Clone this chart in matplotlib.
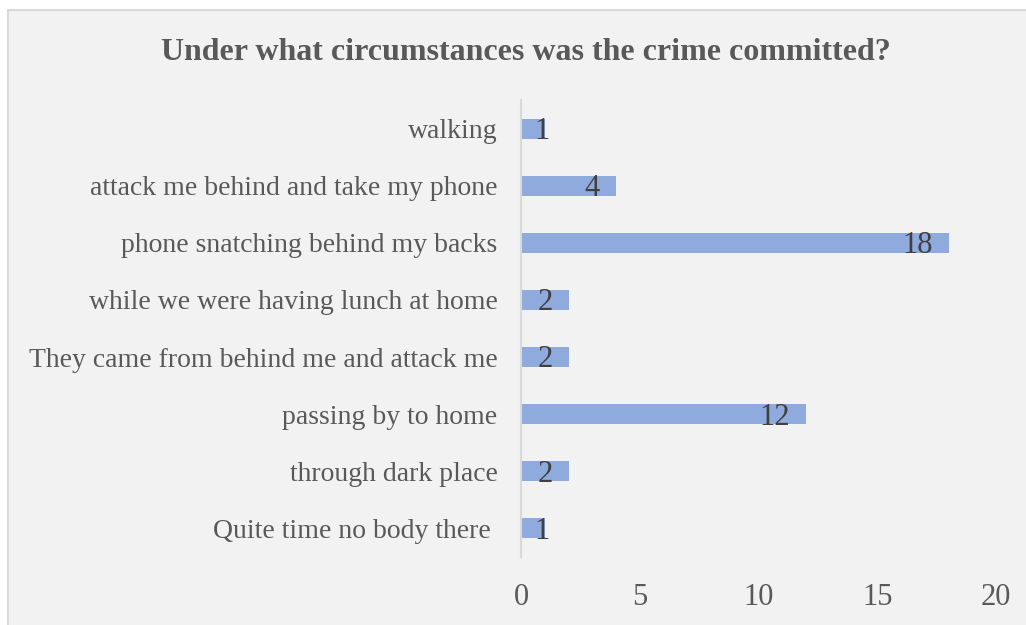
import matplotlib.pyplot as plt
from matplotlib.patches import Rectangle

categories = ['Quite time no body there ', 'through dark place', 'passing by to home',
              'They came from behind me and attack me', 'while we were having lunch at home',
              'phone snatching behind my backs', 'attack me behind and take my phone', 'walking']
values = [1, 2, 12, 2, 2, 18, 4, 1]
xticks = [0, 5, 10, 15, 20]

plt.rcParams['font.family'] = ['Liberation Serif', 'DejaVu Serif']

W, H = 1026, 625
fig = plt.figure(figsize=(W / 100, H / 100), dpi=100)
fig.patch.set_facecolor('white')
# chart area box
fig.patches.append(Rectangle((8 / W, -0.05), (W - 8) / W + 0.01, 1 - 10 / H + 0.05,
                             transform=fig.transFigure, facecolor='#f2f2f2',
                             edgecolor='#d9d9d9', linewidth=1.5, zorder=-1))

left, right = 521 / W, 996 / W
top, bottom = 1 - 100 / H, 1 - 557 / H
ax = fig.add_axes([left, bottom, right - left, top - bottom])
ax.set_facecolor('none')

y = range(len(categories))
ax.barh(y, values, height=0.35, color='#8faadc')
ax.set_xlim(0, 20)
ax.set_ylim(-0.5, len(categories) - 0.5)
ax.set_xticks(xticks)
ax.set_yticks(list(y))
ax.set_yticklabels(categories, fontsize=20, color='#595959')
ax.tick_params(axis='y', length=0, pad=17)
ax.tick_params(axis='x', length=0, pad=18.5, labelsize=22, labelcolor='#595959')
for s in ['top', 'right', 'bottom']:
    ax.spines[s].set_visible(False)
ax.spines['left'].set_color('#d9d9d9')
ax.spines['left'].set_linewidth(1.5)

# data labels, inside end
px_per_unit = (right - left) * W / 20
for yi, v in zip(y, values):
    xr = max(v - 16 / px_per_unit, 29 / px_per_unit)
    ax.text(xr, yi - 0.05, str(v), ha='right', va='center', fontsize=22, color='#404040')

fig.text(526 / W, 1 - 52 / H, 'Under what circumstances was the crime committed?',
         ha='center', va='center', fontsize=23, fontweight='bold', color='#595959')

fig.savefig('out.png', dpi=100)
